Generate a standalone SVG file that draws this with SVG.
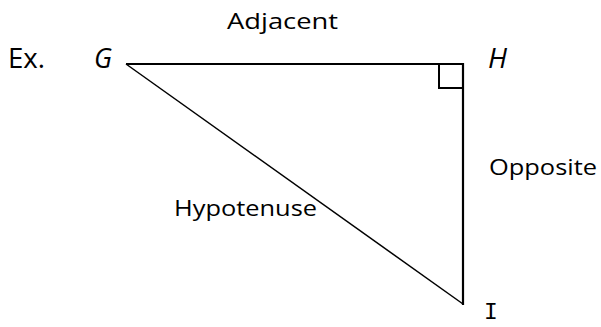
<svg xmlns="http://www.w3.org/2000/svg" width="601" height="327" viewBox="0 0 601 327">
<style>
.t{font-family:"Open Sans","Liberation Sans",sans-serif;fill:#000}
.m{font-family:"Liberation Mono","DejaVu Sans Mono",monospace;fill:#000;font-size:23px}
.s{font-size:22px}
.b{font-size:27px}
.ln{stroke:#000;fill:none}
</style>
<rect width="601" height="327" fill="#fff"/>
<g id="triangle">
<line class="ln" x1="126" y1="64" x2="464" y2="64" stroke-width="2.2"/>
<line class="ln" x1="463" y1="63" x2="463" y2="305" stroke-width="2.2"/>
<line class="ln" x1="126" y1="64" x2="463" y2="304" stroke-width="1.5"/>
<polyline class="ln" points="439,64 439,88 463,88" stroke-width="2"/>
</g>
<g id="labels">
<text class="t b" x="8" y="68" textLength="37" lengthAdjust="spacingAndGlyphs">Ex.</text>
<text class="t b" x="94" y="68" font-style="italic" textLength="18" lengthAdjust="spacingAndGlyphs">G</text>
<text class="t b" x="488" y="68" font-style="italic" textLength="19" lengthAdjust="spacingAndGlyphs">H</text>
<text class="m" x="484" y="319">I</text>
<text class="t s" x="227" y="29" textLength="111" lengthAdjust="spacingAndGlyphs">Adjacent</text>
<text class="t s" x="489" y="175" textLength="108" lengthAdjust="spacingAndGlyphs">Opposite</text>
<text class="t s" x="174" y="216" textLength="143" lengthAdjust="spacingAndGlyphs">Hypotenuse</text>
</g>
</svg>
